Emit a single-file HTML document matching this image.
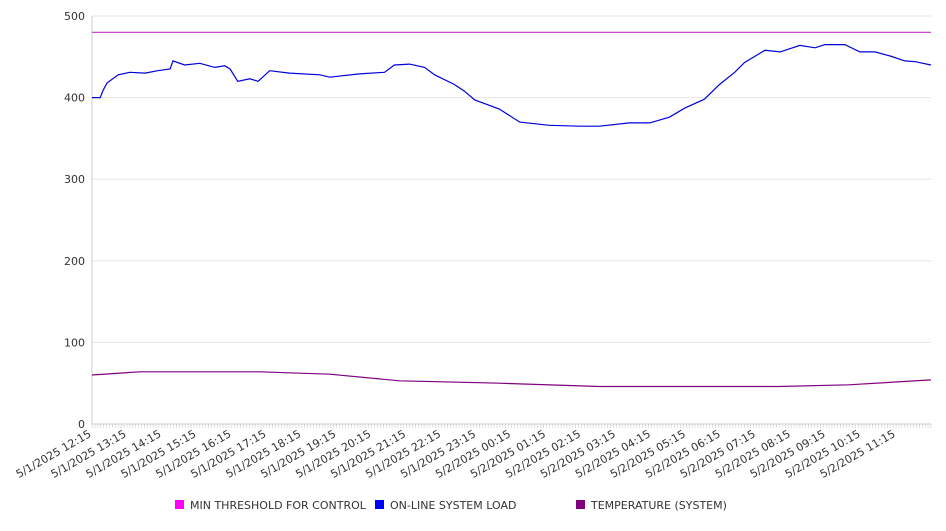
<!DOCTYPE html>
<html><head><meta charset="utf-8"><style>
body{margin:0;background:#fff;font-family:"Liberation Sans","DejaVu Sans",sans-serif;}
svg text{font-family:"DejaVu Sans","Liberation Sans",sans-serif;fill:#333;}
</style></head><body>
<svg id="chart" width="946" height="526" xmlns="http://www.w3.org/2000/svg">
<g id="grid"></g>
<g id="axes"></g>
<g id="series"></g>
<g id="legend"></g>
</svg>
<script>
const yTicks=[0,100,200,300,400,500];
const xLabels=["5/1/2025 12:15","5/1/2025 13:15","5/1/2025 14:15","5/1/2025 15:15","5/1/2025 16:15","5/1/2025 17:15","5/1/2025 18:15","5/1/2025 19:15","5/1/2025 20:15","5/1/2025 21:15","5/1/2025 22:15","5/1/2025 23:15","5/2/2025 00:15","5/2/2025 01:15","5/2/2025 02:15","5/2/2025 03:15","5/2/2025 04:15","5/2/2025 05:15","5/2/2025 06:15","5/2/2025 07:15","5/2/2025 08:15","5/2/2025 09:15","5/2/2025 10:15","5/2/2025 11:15"];
const loadMinutes=[0,14,19,26,45,65,91,113,134,139,159,185,211,228,237,250,271,285,305,339,391,408,459,502,519,545,571,588,622,639,657,699,734,785,837,871,922,957,991,1017,1051,1077,1103,1120,1155,1181,1215,1241,1258,1292,1318,1344,1370,1395,1413,1440];
const loadValues=[400,400,409,418,428,431,430,433,435,445,440,442,437,439,435,420,423,420,433,430,428,425,429,431,440,441,437,428,416,408,397,386,370,366,365,365,369,369,376,387,398,416,431,443,458,456,464,461,465,465,456,456,451,445,444,440];
const tempMinutes=[0,82,288,408,528,699,871,1179,1299,1440];
const tempValues=[60,64,64,61,53,50,46,46,48,54];
const thresholdValue=480;
const X0=92,X1=931,Y0=424,Y1=16,XMAX=1440;
const xs=m=>X0+m/XMAX*(X1-X0);
const ys=v=>Y0-v/500*(Y0-Y1);
const NS="http://www.w3.org/2000/svg";
function mk(tag,parent,attrs){const e=document.createElementNS(NS,tag);for(const k in attrs)e.setAttribute(k,attrs[k]);parent.appendChild(e);return e;}
const grid=document.getElementById('grid'),axes=document.getElementById('axes'),series=document.getElementById('series'),legend=document.getElementById('legend');
yTicks.forEach(t=>{
 const l=mk('line',grid,{x1:X0,x2:X1,y1:ys(t),y2:ys(t),stroke:t===0?'#ccc':'#e6e6e6','stroke-width':1});
 
 
 const tx=mk('text',axes,{x:85,y:ys(t)+4,'text-anchor':'end','font-size':11});
 tx.textContent=t;
 
 
});
const ya=mk('line',axes,{x1:X0,x2:X0,y1:Y1,y2:Y0,stroke:'#ccc'});


for(let m=0;m<=XMAX;m+=5){const tk=mk('line',axes,{x1:xs(m),x2:xs(m),y1:Y0,y2:Y0+4,stroke:'#ccc','stroke-width':0.6});
 
 }
xLabels.forEach((s,i)=>{const x=xs(i*60);
 const tx=mk('text',axes,{x:x,y:Y0+12,'text-anchor':'end','font-size':11,transform:`rotate(-30 ${x} ${Y0+12})`});
 tx.textContent=s;
 
 
});
const th=mk('line',series,{x1:X0,x2:X1,y1:ys(thresholdValue),y2:ys(thresholdValue),stroke:'#cc33cc','stroke-width':1.2});


function path(ms,vs,color,name){const d=ms.map((m,i)=>(i?'L':'M')+xs(m).toFixed(1)+' '+ys(vs[i]).toFixed(1)).join(' ');
 const p=mk('path',series,{d:d,fill:'none',stroke:color,'stroke-width':1.2});
 
 }
path(loadMinutes,loadValues,'#0000dd','online-system-load-line');
path(tempMinutes,tempValues,'#800080','temperature-line');
[['MIN THRESHOLD FOR CONTROL','#ff00ff',175],['ON-LINE SYSTEM LOAD','#0000ff',375],['TEMPERATURE (SYSTEM)','#800080',576]].forEach(([t,c,x])=>{
 const g=mk('g',legend,{});
 
 
 mk('rect',g,{x:x,y:500,width:9,height:9,fill:c});
 const tx=mk('text',g,{x:x+15,y:509,'font-size':11});
 tx.textContent=t;
});
</script>
</body></html>
